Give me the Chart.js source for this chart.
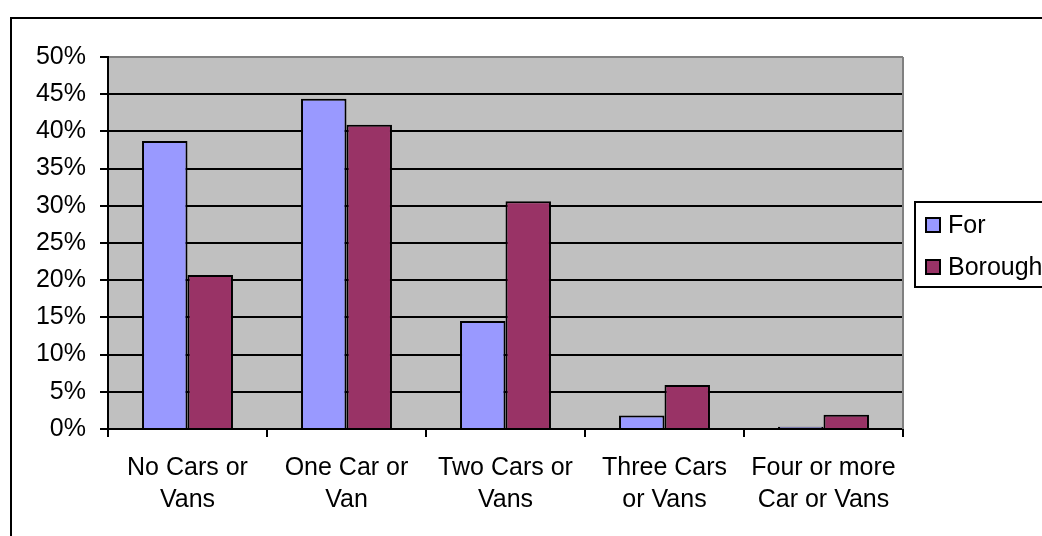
<!DOCTYPE html>
<html>
<head>
<meta charset="utf-8">
<script src="https://cdn.jsdelivr.net/npm/chart.js@4.4.1/dist/chart.umd.min.js"></script>
<style>
  html, body { margin: 0; padding: 0; background: #ffffff; overflow: hidden; }
  #wrap { position: relative; width: 1042px; height: 536px; }
</style>
</head>
<body>
<div id="wrap"><canvas id="c" width="1042" height="536"></canvas></div>
<script>
const categories = [
  ["No Cars or", "Vans"],
  ["One Car or", "Van"],
  ["Two Cars or", "Vans"],
  ["Three Cars", "or Vans"],
  ["Four or more", "Car or Vans"]
];
const seriesNames = ["For", "Borough"];
const forValues = [38.7, 44.4, 14.5, 1.8, 0.3];
const boroughValues = [20.7, 40.9, 30.6, 5.9, 1.9];
const yTicks = [0, 5, 10, 15, 20, 25, 30, 35, 40, 45, 50];

const FONT = "'Liberation Sans', Arial, sans-serif";
const FONT_SIZE = 25;

const framePlugin = {
  id: 'frame',
  beforeDraw(chart) {
    const ctx = chart.ctx;
    const a = chart.chartArea;
    ctx.save();
    ctx.fillStyle = '#ffffff';
    ctx.fillRect(0, 0, chart.width, chart.height);
    ctx.strokeStyle = '#000000';
    ctx.lineWidth = 2;
    ctx.beginPath();
    ctx.moveTo(11, chart.height + 5);
    ctx.lineTo(11, 18);
    ctx.lineTo(chart.width + 5, 18);
    ctx.stroke();
    ctx.fillStyle = '#C0C0C0';
    ctx.fillRect(a.left, a.top, a.right - a.left, a.bottom - a.top);
    ctx.restore();
  },
  afterDraw(chart) {
    const ctx = chart.ctx;
    const a = chart.chartArea;
    ctx.save();
    ctx.strokeStyle = '#808080';
    ctx.lineWidth = 2;
    ctx.beginPath();
    ctx.moveTo(a.right, a.top);
    ctx.lineTo(a.right, a.bottom);
    ctx.stroke();
    const lx = 915, ly = 202, lh = 85;
    ctx.fillStyle = '#ffffff';
    ctx.fillRect(lx, ly, chart.width - lx + 10, lh);
    ctx.strokeStyle = '#000000';
    ctx.lineWidth = 2;
    ctx.strokeRect(lx, ly, chart.width - lx + 10, lh);
    ctx.font = FONT_SIZE + 'px ' + FONT;
    ctx.textBaseline = 'middle';
    ctx.textAlign = 'left';
    chart.data.datasets.forEach((ds, i) => {
      const cy = 225 + i * 42;
      ctx.fillStyle = ds.backgroundColor;
      ctx.fillRect(926, cy - 7, 14, 14);
      ctx.strokeStyle = '#000000';
      ctx.lineWidth = 2;
      ctx.strokeRect(926, cy - 7, 14, 14);
      ctx.fillStyle = '#000000';
      ctx.fillText(ds.label, 948, cy + 1);
    });
    ctx.restore();
  }
};

new Chart(document.getElementById('c'), {
  type: 'bar',
  data: {
    labels: categories,
    datasets: [
      { label: seriesNames[0], data: forValues, backgroundColor: '#9999FF', borderColor: '#000000', borderWidth: 2 },
      { label: seriesNames[1], data: boroughValues, backgroundColor: '#993366', borderColor: '#000000', borderWidth: 2 }
    ]
  },
  options: {
    responsive: false,
    animation: false,
    devicePixelRatio: 1,
    layout: { padding: { left: 0, right: 139, top: 57, bottom: 0 } },
    datasets: { bar: { categoryPercentage: 0.572, barPercentage: 1.0 } },
    plugins: { legend: { display: false }, tooltip: { enabled: false }, title: { display: false } },
    scales: {
      x: {
        offset: true,
        grid: { display: true, drawOnChartArea: false, drawTicks: true, tickLength: 8, color: '#000000', lineWidth: 2, offset: true },
        border: { display: true, color: '#000000', width: 2 },
        ticks: { color: '#000000', font: { family: FONT, size: FONT_SIZE, lineHeight: 1.28 }, padding: 15, maxRotation: 0, autoSkip: false },
        afterFit(scale) { scale.height = 107; }
      },
      y: {
        min: 0, max: 50,
        afterBuildTicks(scale) { scale.ticks = yTicks.map(v => ({ value: v })); },
        grid: {
          color: (c) => (c.tick && c.tick.value === 50 ? '#808080' : '#000000'),
          lineWidth: 2, drawTicks: true, tickLength: 8,
          tickColor: '#000000'
        },
        border: { display: true, color: '#000000', width: 2 },
        ticks: { color: '#000000', font: { family: FONT, size: FONT_SIZE }, padding: 14, callback: (v) => v + '%' },
        afterFit(scale) { scale.width = 108; }
      }
    }
  },
  plugins: [framePlugin]
});
</script>
</body>
</html>
